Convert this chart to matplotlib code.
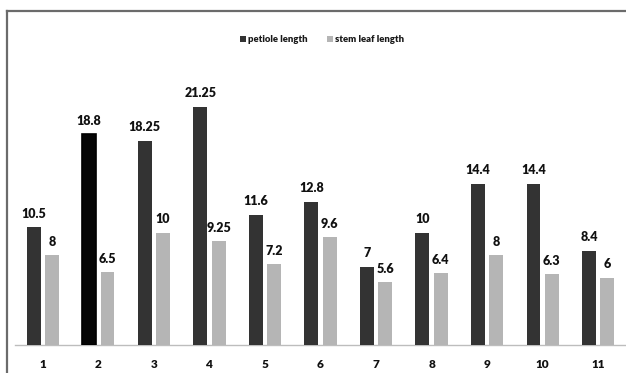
import matplotlib
matplotlib.use("Agg")
import matplotlib.pyplot as plt
from matplotlib.lines import Line2D
import numpy as np

categories = ["1", "2", "3", "4", "5", "6", "7", "8", "9", "10", "11"]
petiole = [10.5, 18.8, 18.25, 21.25, 11.6, 12.8, 7, 10, 14.4, 14.4, 8.4]
stem_leaf = [8, 6.5, 10, 9.25, 7.2, 9.6, 5.6, 6.4, 8, 6.3, 6]
petiole_labels = ["10.5", "18.8", "18.25", "21.25", "11.6", "12.8", "7", "10", "14.4", "14.4", "8.4"]
stem_labels = ["8", "6.5", "10", "9.25", "7.2", "9.6", "5.6", "6.4", "8", "6.3", "6"]

W, H = 626, 373
fig = plt.figure(figsize=(W / 100, H / 100), dpi=100)
FONT = "Lato"

base_y = 345
top_y = 15
px_per_unit = 11.2
ax = fig.add_axes([15 / W, 1 - base_y / H, 1 - 15 / W, (base_y - top_y) / H])

x = np.arange(len(categories))
w = 0.25
off = 0.165
dark_colors = ["#333333"] * len(categories)
dark_colors[1] = "#050505"
b1 = ax.bar(x - off, petiole, w, color=dark_colors, label="petiole length", zorder=3)
b1[1].set_edgecolor("#000000")
b1[1].set_linewidth(1.2)
b2 = ax.bar(x + off, stem_leaf, w, color="#b5b5b5", label="stem leaf length", zorder=3)

for xi, v, t in zip(x - off, petiole, petiole_labels):
    ax.annotate(t, (xi, v), xytext=(0, 5.5), textcoords="offset points",
                ha="center", va="bottom", fontsize=9, fontweight="heavy",
                family=FONT, color="#111111")
for xi, v, t in zip(x + off, stem_leaf, stem_labels):
    ax.annotate(t, (xi, v), xytext=(0, 5.5), textcoords="offset points",
                ha="center", va="bottom", fontsize=9, fontweight="heavy",
                family=FONT, color="#111111")

ax.set_xlim(-0.5, 10.5)
ax.set_ylim(0, (base_y - top_y) / px_per_unit)
ax.set_xticks(x)
ax.set_xticklabels(categories, fontsize=8.5, fontweight="heavy", family=FONT, color="#111111")
ax.tick_params(axis="x", length=0, pad=10)
ax.set_yticks([])
for s in ["top", "right", "left"]:
    ax.spines[s].set_visible(False)
ax.spines["bottom"].set_color("#bdbdbd")
ax.spines["bottom"].set_linewidth(1.0)
ax.patch.set_alpha(0)

leg = ax.legend(loc="center", bbox_to_anchor=((322 - 15) / (W - 15), (base_y - 40) / (base_y - top_y)),
                ncol=2, frameon=False, prop={"family": FONT, "weight": "heavy", "size": 6.8},
                handlelength=0.7, handleheight=0.7, handletextpad=0.2, columnspacing=2.0)
for t in leg.get_texts():
    t.set_color("#1a1a1a")

# outer frame (top and left edges visible)
fig.add_artist(Line2D([6.5 / W, 6.5 / W], [-0.05, 1 - 11 / H], color="#6b6b6b", lw=1.6,
                      transform=fig.transFigure))
fig.add_artist(Line2D([6.5 / W, 1.05], [1 - 11 / H, 1 - 11 / H], color="#6b6b6b", lw=1.6,
                      transform=fig.transFigure))

fig.savefig("out.png", dpi=100)

img = plt.imread("out.png")
col = img[20:340, W - 4:, :3].mean()
if col < 0.95:
    fig.text(0.5, 0.5, "DEBUG right col dark %.2f" % col, color="red", fontsize=14)
    fig.savefig("out.png", dpi=100)
